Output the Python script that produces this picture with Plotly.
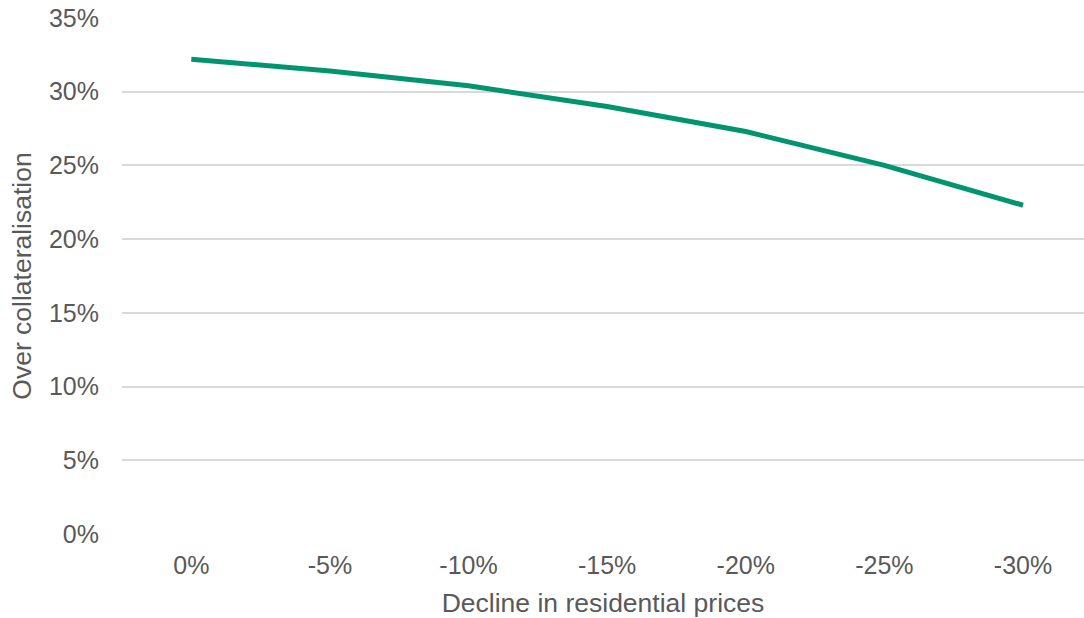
import plotly.graph_objects as go

# Stress scenario: decline in residential prices vs. over collateralisation
price_decline = ["0%", "-5%", "-10%", "-15%", "-20%", "-25%", "-30%"]
over_collat = [32.2, 31.4, 30.4, 29.0, 27.3, 25.0, 22.3]

y_ticks = [0, 5, 10, 15, 20, 25, 30, 35]
y_tick_text = [f"{v}%" for v in y_ticks]

TEXT = "#595959"
GRID = "#d9d9d9"
LINE = "#00956f"
FONT = "Liberation Sans, Arial, sans-serif"

fig = go.Figure()
fig.add_trace(go.Scatter(
    x=list(range(len(price_decline))),
    y=over_collat,
    mode="lines",
    line=dict(color=LINE, width=5),
    hoverinfo="skip",
    showlegend=False,
))

fig.update_layout(
    width=1084,
    height=618,
    margin=dict(l=122, r=0, t=18, b=84),
    paper_bgcolor="white",
    plot_bgcolor="white",
    font=dict(family=FONT, color=TEXT, size=25),
    xaxis=dict(
        range=[-0.5, 6.44],
        tickmode="array",
        tickvals=list(range(len(price_decline))),
        ticktext=price_decline,
        showgrid=False,
        zeroline=False,
        showline=False,
        ticks="",
        ticklabelstandoff=14,
        tickfont=dict(size=25, color=TEXT),
        title=dict(text="Decline in residential prices", standoff=18,
                   font=dict(size=26.5, color=TEXT)),
    ),
    yaxis=dict(
        range=[0, 35],
        tickmode="array",
        tickvals=y_ticks,
        ticktext=y_tick_text,
        showgrid=True,
        gridcolor=GRID,
        gridwidth=1.5,
        zeroline=False,
        showline=False,
        ticks="",
        ticklabelstandoff=22,
        tickfont=dict(size=25, color=TEXT),
        title=dict(text="Over collateralisation", standoff=9,
                   font=dict(size=26.5, color=TEXT)),
    ),
)

fig.write_html("out.html")
